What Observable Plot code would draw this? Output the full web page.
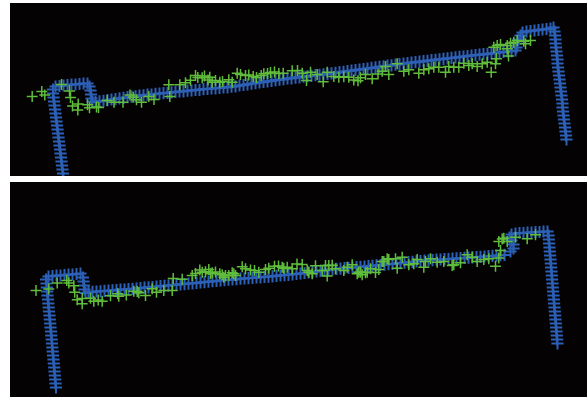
<!DOCTYPE html>
<html><head><meta charset="utf-8">
<script src="https://cdn.jsdelivr.net/npm/d3@7"></script>
<script src="https://cdn.jsdelivr.net/npm/@observablehq/plot@0.6"></script>
<style>
html,body{margin:0;padding:0;background:#fff;width:587px;height:399px;overflow:hidden;}
#top{position:absolute;left:10px;top:3px;line-height:0;}
#bottom{position:absolute;left:10px;top:182px;line-height:0;}
</style></head><body>
<div id="top"></div><div id="bottom"></div>
<script>
// Upper panel: blue trajectory
const topBlue = [
[53,-1],[52.5,3],[52,7],[51.5,11],[51,15],[50.5,19],[50,23],[49.5,27],[49,31],[48.5,35],[48,39],[47.5,43],[47,47],[46.5,51],[46,55],[45.5,59],[45,63],[44.5,67],[44,71],[43.5,75],[43,79],[42.5,83],[42.5,87],
[45,90],[49,90.5],[53,91],[57,91.5],[61,92],[65,92],[69,92.5],[73,93],[77,93],
[79,90],[80,86],[80.5,82],[81,78],[82,75],
[85,74.5],[89,75.2],[93,75.6],[97,76.3],[101,77.0],[105,77.4],[109,78.2],[113,78.7],[117,79.3],
[121,79.8],[125,80.2],[129,81.0],[133,81.2],[137,81.8],[141,82.0],[145,82.6],[149,82.9],[153,83.4],[157,83.6],[161,84.2],[165,84.5],[169,85.0],
[173,85.2],[177,85.8],[181,86.0],[185,86.5],[189,86.7],[193,87.4],[197,87.6],[201,88.0],[205,88.2],[209,88.6],[213,89.0],[217,89.2],
[221,89.8],[225,90.2],[229,91.0],[233,91.5],[237,92.2],[241,92.8],[245,93.4],[249,94.0],[253,94.5],[257,95.2],[261,95.6],[265,96.4],[269,96.8],
[273,97.3],[277,98.0],[281,98.2],[285,98.9],[289,99.2],[293,99.8],[297,100.3],[301,100.7],[305,101.3],[309,101.6],[313,102.2],[317,102.6],
[321,103.2],[325,103.6],[329,104.3],[333,104.7],[337,105.4],[341,105.8],[345,106.5],[349,107.0],[353,107.5],[357,108.0],[361,108.6],[365,109.1],[369,109.7],[373,110.2],[377,110.8],[381,111.2],[385,111.9],[389,112.3],
[393,112.9],[397,113.3],[401,113.9],[405,114.3],[409,114.8],[413,115.3],[417,115.7],[421,116.3],[425,116.7],[429,117.2],[433,117.6],[437,118.2],
[441,118.6],[445,119.1],[449,119.6],[453,120.0],[457,120.5],[461,120.9],[465,121.4],[469,121.8],[473,122.3],[477,122.6],[481,123.2],[485,123.5],[489,124.0],
[493,124.5],[497,125.0],[501,125.4],[505,126.0],
[506,129],[507,133],[508,137],[510,141],[512,144],
[516,145],[520,145.5],[524,146],[528,146.5],[532,147],[536,147.5],[540,148],[543,149],
[544,145],[544.5,141],[545,137],[545,133],[545.5,129],[546,125],[546.5,121],[547,117],[547,113],[547.5,109],[548,105],[548.5,101],[549,97],[549.5,93],[550,89],[550.5,85],[551,81],[551.5,77],[552,73],[552,69],[552.5,65],[553,61],[553.5,57],[554,53],[554.5,49],[555,45],[555.5,41],[556,37]
];
// Upper panel: green scatter
const topGreen = [
[21.7,80],[31.3,85],[34.3,81.5],[51,92],[59,85.5],[60,79],[62,70.5],[67.7,72.5],[67.3,66.5],[77,71.8],[79,68.7],[86,69.5],[88,69],
[96.7,76],[103.5,74.3],[112.5,74.2],[119.5,81.5],[122.7,79.3],[126,76.7],[131,74.3],[138.3,80],[143.5,77],[158.3,91.8],[159.3,80],
[169.3,91.7],[175,93.8],[180,96.3],[185,101],[187.3,99],[191.7,98.7],[194,100.5],[197.5,96.5],[199.3,99.3],[201.7,94.3],[205,96],
[209.3,94.3],[212,95],[218.3,96.7],[221.7,94.3],[226.7,103.3],[230,102],[235,101],[238.3,101.5],[242.7,100],[246,99],[250.7,101],
[253.3,102.7],[257,103],[260,104],[264,104.5],[268.3,103],[272.7,103.3],[281.7,105.7],[287,106],[291.7,103.3],[296,96],[300,104.3],
[306.7,102],[312.7,94.7],[316.7,104.3],[323.3,100],[328.3,99.3],[333.3,99.7],[338.3,99.3],[343.3,96.5],[347.5,95.7],[350,98.7],
[355,102],[361.7,97.7],[367.5,102.5],[371.7,105.3],[375,110],[378.3,102],[386.7,112.7],[393.3,105.3],[398.3,106.7],[408.3,103.3],
[413.3,106.7],[418.3,107.7],[423.3,109.3],[428.3,109.3],[435,104.3],[438.3,110],[443.3,109.3],[448.3,109.3],[453.3,113.3],[458.3,111],
[461.7,112.7],[466.7,110],[471.7,112.7],[476.7,114.3],[480.7,104.3],[483.3,129.3],[485,112.7],[486,117.7],[486.7,131],[490,132],
[496.7,131],[496.7,127.7],[498,120.5],[500,133.3],[503.3,134.3],[506.7,136],[513.3,135.3],[515,132.7],[520,136]
];
// Lower panel: blue trajectory
const bottomBlue = [
[45.5,10],[45,14],[44.7,18],[44.3,22],[44,26],[43.7,30],[43.3,34],[43,38],[42.5,42],[42.2,46],[41.8,50],[41.5,54],[41.2,58],[40.8,62],[40.5,66],[40,70],[39.7,74],[39.3,78],[39,82],[38.5,86],[38.2,90],[37.8,94],[37.5,98],[37,102],[36.7,106],[36.3,110],[36,114],[35.5,118],
[38,121],[42,121.5],[46,122],[50,122],[54,122.5],[58,123],[62,123],[66,123.5],[70,124],
[72.5,120],[73,116],[73.5,112],[74,108],[75,104.5],
[78,105.3],[82,105.6],[86,106.0],[90,106.2],[94,106.6],[98,106.8],[102,107.2],[106,107.4],[110,107.9],[114,108.0],[118,108.5],[122,108.7],
[126,109.0],[130,109.5],[134,109.8],[138,110.2],[142,110.5],[146,111.0],[150,111.3],[154,111.7],[158,112.0],[162,112.5],[166,112.7],[170,113.2],[174,113.4],[178,113.9],[182,114.2],[186,114.6],
[190,115.0],[194,115.4],[198,115.8],[202,116.3],[206,116.6],[210,117.0],[214,117.4],[218,117.8],
[222,118.1],[226,118.3],[230,118.8],[234,119.0],[238,119.4],[242,119.6],[246,120.0],[250,120.2],
[254,120.5],[258,120.9],[262,121.2],[266,121.7],[270,122.0],[274,122.4],[278,122.7],[282,123.2],[286,123.5],
[290,124.0],[294,124.5],[298,125.0],[302,125.6],[306,126.0],[310,126.7],[314,127.1],[318,127.7],
[322,128.2],[326,128.6],[330,128.9],[334,129.3],[338,129.6],[342,130.0],[346,130.3],[350,130.7],[354,131.0],[358,131.4],[362,131.7],
[366,132.1],[370,132.5],[374,132.9],[378,133.3],[382,133.6],[386,134.0],[390,134.4],[394,134.8],[398,135.3],[402,135.6],[406,136.1],[410,136.4],[414,136.9],
[418,137.2],[422,137.4],[426,137.8],[430,138.0],[434,138.3],[438,138.5],[442,138.8],[446,139.1],[450,139.3],[454,139.6],[458,139.9],[462,140.1],
[466,140.4],[470,140.6],[474,141.0],[478,141.3],[482,141.6],[486,141.9],[490,142.3],[494,142.6],
[500,146],[503,149],[503,153],[501,157],[499,160],[501,163],
[505,164],[509,164.5],[513,164.5],[517,165],[521,165],[525,165.5],[529,165.5],[533,166],[537,166],
[538,162],[538.3,158],[538.6,154],[539,150],[539.3,146],[539.6,142],[540,138],[540.3,134],[540.6,130],[541,126],[541.3,122],[541.6,118],[542,114],[542.3,110],[542.6,106],[543,102],[543.3,98],[543.6,94],[544,90],[544.3,86],[544.6,82],[545,78],[545.3,74],[545.6,70],[546,66],[546.3,62],[546.6,58],[547,54]
];
// Lower panel: green scatter
const bottomGreen = [
[25.5,107],[38.3,108.5],[46.7,114.5],[56.3,117],[58.3,114.5],[63.3,111.7],[64.2,105.3],[66.7,97.8],[71.7,99],[71.7,93.7],[80,99.2],
[83.3,96.2],[87.7,97.5],[91.7,96.2],[100,101.7],[107.2,103.7],[108.3,101.3],[115.8,102.4],[123.3,106.3],[126.7,106],[128.3,104.7],
[135,102],[141.7,108.7],[146,105.3],[153.3,107],[161.7,107],[162.7,119],[171.7,118.3],[181.7,122],[185,124],[189.3,127.5],[191.7,125.3],
[195,125.7],[198.3,128],[200,123.7],[201.7,124.7],[205,125.5],[209.3,123.7],[211.7,122.7],[213.3,120.3],[215,122],[218.3,122],
[221.7,124.7],[223.3,123.7],[225,122],[231.7,130.7],[235,128.7],[240,127.5],[244,127],[248.3,125.3],[255,128],[258.3,129.3],
[264,131.3],[268,131.5],[271.7,130.3],[273.3,129.3],[276.7,130.3],[281.7,128.7],[286.5,133.5],[291.7,133],[296.7,127],[298.3,125.3],
[301.7,123.7],[305,131.7],[311.7,127],[315,132],[316.7,121.5],[318.3,132],[321.7,132.2],[325,128.7],[333.3,127],[336.7,130.3],
[341.7,132.7],[346.7,123.7],[348.3,125.3],[350,125.3],[351.7,122.7],[355,124.7],[356.7,125.3],[360,128.7],[365,125],[368.3,128],
[371.7,136],[373.3,136],[376.7,138.7],[378.3,138],[385,138.7],[386.7,129.3],[391.7,140.3],[398.3,132.7],[403.3,133.7],[406.7,138],
[413.3,130.3],[415,136],[420,138.7],[426.7,135.3],[433.3,136],[441.7,132],[443.3,132.7],[450,134.7],[456.7,142.7],[461.7,140.3],
[466.7,136],[473.3,138],[478.3,138.7],[485,131.3],[488.3,139.5],[490,147],[488.3,156],[491.7,158.5],[493.3,159.3],[496.7,156],
[505,160.3],[516.7,158.7],[525,162.7]
];

const BLUE = "#2c60b6", GREEN = "#60bd3c", BG = "#040202";

function panel(blue, green, h) {
  return Plot.plot({
    width: 577, height: h, margin: 0,
    x: {domain: [0, 577], axis: null},
    y: {domain: [0, h], axis: null},
    style: {background: BG, overflow: "hidden"},
    marks: [
      Plot.dot(blue, {x: d => d[0], y: d => d[1], symbol: "plus", r: 4, stroke: BLUE, strokeWidth: 2, clip: true}),
      Plot.dot(green, {x: d => d[0], y: d => d[1], symbol: "plus", r: 3.6, stroke: GREEN, strokeWidth: 1.5, clip: true})
    ]
  });
}

document.getElementById("top").append(panel(topBlue, topGreen, 173));
document.getElementById("bottom").append(panel(bottomBlue, bottomGreen, 215));
</script>
</body></html>
